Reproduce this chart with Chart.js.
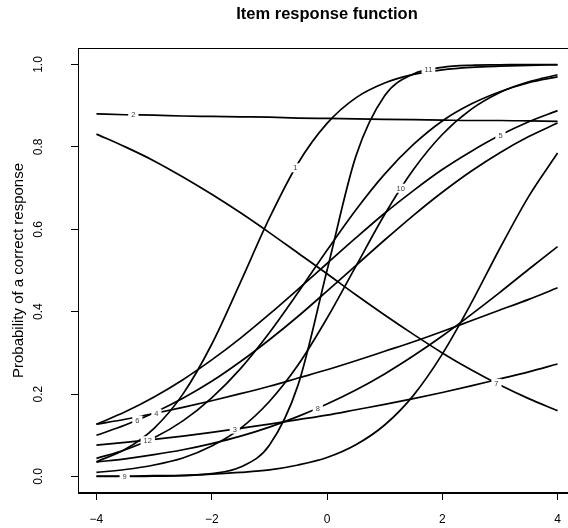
<!DOCTYPE html>
<html>
<head>
<meta charset="utf-8">
<title>Item response function</title>
<script src="https://cdn.jsdelivr.net/npm/chart.js@4.4.1/dist/chart.umd.min.js"></script>
<style>
    html, body { margin: 0; padding: 0; background: #fff; }
    #wrap { width: 568px; height: 528px; overflow: hidden; }
    canvas { display: block; }
</style>
</head>
<body>
<div id="wrap"><canvas id="irf" width="606" height="528"></canvas></div>
<script>
// Ability grid and probability of a correct response for each item
const theta = [-4, -3.5, -3, -2.5, -2, -1.5, -1, -0.5, 0, 0.5, 1, 1.5, 2, 2.5, 3, 3.5, 4];

const item1  = [0.036, 0.066, 0.117, 0.200, 0.321, 0.472, 0.627, 0.761, 0.857, 0.919, 0.955, 0.976, 0.987, 0.993, 0.996, 0.998, 0.999];
const item2  = [0.880, 0.878, 0.877, 0.875, 0.874, 0.873, 0.872, 0.870, 0.869, 0.868, 0.867, 0.866, 0.865, 0.864, 0.864, 0.863, 0.862];
const item3  = [0.076, 0.083, 0.090, 0.098, 0.107, 0.117, 0.127, 0.138, 0.149, 0.162, 0.175, 0.189, 0.204, 0.220, 0.237, 0.254, 0.273];
const item4  = [0.127, 0.139, 0.153, 0.168, 0.184, 0.201, 0.219, 0.239, 0.259, 0.281, 0.304, 0.327, 0.352, 0.378, 0.404, 0.430, 0.458];
const item5  = [0.127, 0.157, 0.193, 0.235, 0.283, 0.336, 0.394, 0.455, 0.517, 0.579, 0.639, 0.694, 0.745, 0.789, 0.828, 0.861, 0.888];
const item6  = [0.100, 0.125, 0.155, 0.190, 0.231, 0.279, 0.332, 0.389, 0.450, 0.512, 0.574, 0.634, 0.690, 0.741, 0.786, 0.825, 0.858];
const item7  = [0.831, 0.800, 0.766, 0.727, 0.685, 0.640, 0.592, 0.542, 0.492, 0.441, 0.392, 0.345, 0.300, 0.259, 0.222, 0.189, 0.160];
const item8  = [0.035, 0.043, 0.053, 0.065, 0.080, 0.098, 0.120, 0.146, 0.176, 0.210, 0.249, 0.293, 0.341, 0.393, 0.447, 0.503, 0.558];
const item9  = [0.001, 0.001, 0.002, 0.003, 0.006, 0.010, 0.016, 0.028, 0.046, 0.077, 0.125, 0.197, 0.297, 0.420, 0.554, 0.680, 0.785];
const item10 = [0.010, 0.017, 0.028, 0.045, 0.074, 0.117, 0.182, 0.271, 0.384, 0.510, 0.636, 0.745, 0.830, 0.891, 0.932, 0.958, 0.975];
const item11 = [0.000, 0.000, 0.001, 0.002, 0.007, 0.023, 0.076, 0.223, 0.500, 0.777, 0.924, 0.977, 0.993, 0.998, 0.999, 1.000, 1.000];
const item12 = [0.044, 0.065, 0.094, 0.135, 0.191, 0.262, 0.349, 0.447, 0.549, 0.647, 0.734, 0.806, 0.863, 0.904, 0.934, 0.956, 0.970];

const items = [item1, item2, item3, item4, item5, item6, item7, item8, item9, item10, item11, item12];
const itemNames = ["1", "2", "3", "4", "5", "6", "7", "8", "9", "10", "11", "12"];
// ability at which each item number is written on its curve
const labelTheta = [-0.55, -3.36, -1.6, -2.96, 3.01, -3.29, 2.94, -0.16, -3.51, 1.28, 1.76, -3.11];

const xTicks = [-4, -2, 0, 2, 4];
const yTicks = [0, 0.2, 0.4, 0.6, 0.8, 1.0];

const FONT = "'Liberation Sans', Arial, Helvetica, sans-serif";

// cubic bezier helper
function bez(p0, p1, p2, p3, t) {
    const u = 1 - t;
    return u * u * u * p0 + 3 * u * u * t * p1 + 3 * u * t * t * p2 + t * t * t * p3;
}

// y pixel of a drawn curve at a given x pixel (follows the spline segments)
function curveYAt(meta, px) {
    const pts = meta.data;
    for (let j = 0; j < pts.length - 1; j++) {
        const a = pts[j], b = pts[j + 1];
        if (px >= a.x && px <= b.x) {
            const x1 = a.cp2x ?? a.x, x2 = b.cp1x ?? b.x;
            const y1 = a.cp2y ?? a.y, y2 = b.cp1y ?? b.y;
            let lo = 0, hi = 1;
            for (let k = 0; k < 40; k++) {
                const t = (lo + hi) / 2;
                if (bez(a.x, x1, x2, b.x, t) < px) lo = t; else hi = t;
            }
            return bez(a.y, y1, y2, b.y, (lo + hi) / 2);
        }
    }
    return pts[pts.length - 1].y;
}

// Box, titles and item numbers
const decorations = {
    id: "decorations",
    afterDatasetsDraw(chart) {
        const { ctx, chartArea, scales } = chart;
        ctx.save();

        // item numbers sitting on the curves
        ctx.font = "7.5px " + FONT;
        ctx.textAlign = "center";
        ctx.textBaseline = "middle";
        items.forEach((vals, i) => {
            const meta = chart.getDatasetMeta(i);
            const px = scales.x.getPixelForValue(labelTheta[i]);
            const py = curveYAt(meta, px);
            const w = ctx.measureText(itemNames[i]).width + 6;
            ctx.fillStyle = "#fff";
            ctx.fillRect(px - w / 2, py - 4.5, w, 9);
            ctx.fillStyle = "#3c3c3c";
            ctx.fillText(itemNames[i], px, py + 0.5);
        });

        // plot frame
        ctx.strokeStyle = "#000";
        ctx.lineWidth = 1;
        ctx.strokeRect(chartArea.left + 0.5, chartArea.top + 0.5,
            chartArea.right - chartArea.left, chartArea.bottom - chartArea.top - 1);

        // main title
        ctx.fillStyle = "#000";
        ctx.font = "bold 16.5px " + FONT;
        ctx.textAlign = "center";
        ctx.textBaseline = "middle";
        ctx.fillText("Item response function", (chartArea.left + chartArea.right) / 2, 14);

        // y axis title
        ctx.font = "15px " + FONT;
        ctx.translate(19, (chartArea.top + chartArea.bottom) / 2);
        ctx.rotate(-Math.PI / 2);
        ctx.fillText("Probability of a correct response", 0, 0);
        ctx.restore();
    }
};

const datasets = items.map((vals, i) => ({
    label: itemNames[i],
    data: theta.map((t, j) => ({ x: t, y: vals[j] })),
    borderColor: "#000",
    borderWidth: 1.7,
    pointRadius: 0,
    fill: false,
    cubicInterpolationMode: "monotone"
}));

new Chart(document.getElementById("irf"), {
    type: "line",
    data: { datasets },
    options: {
        responsive: false,
        animation: false,
        events: [],
        layout: { padding: { top: 48, right: 30, left: 0, bottom: 0 } },
        plugins: {
            legend: { display: false },
            title: { display: false },
            tooltip: { enabled: false }
        },
        scales: {
            x: {
                type: "linear",
                min: -4.32,
                max: 4.32,
                afterBuildTicks: s => { s.ticks = xTicks.map(v => ({ value: v })); },
                afterFit: s => { s.height = 35; },
                grid: { drawOnChartArea: false, drawTicks: true, tickLength: 7, color: "#000", lineWidth: 1 },
                border: { display: true, color: "#000", width: 1 },
                ticks: {
                    color: "#000",
                    font: { family: FONT, size: 12 },
                    padding: 12,
                    maxRotation: 0,
                    callback: v => String(v).replace("-", "\u2212")
                }
            },
            y: {
                type: "linear",
                min: -0.04,
                max: 1.04,
                afterBuildTicks: s => { s.ticks = yTicks.map(v => ({ value: v })); },
                afterFit: s => { s.width = 78; },
                grid: { drawOnChartArea: false, drawTicks: true, tickLength: 7, color: "#000", lineWidth: 1 },
                border: { display: true, color: "#000", width: 1 },
                ticks: {
                    color: "#000",
                    font: { family: FONT, size: 12 },
                    padding: 24,
                    minRotation: 90,
                    maxRotation: 90,
                    crossAlign: "center",
                    callback: v => v.toFixed(1)
                }
            }
        }
    },
    plugins: [decorations]
});
</script>
</body>
</html>
